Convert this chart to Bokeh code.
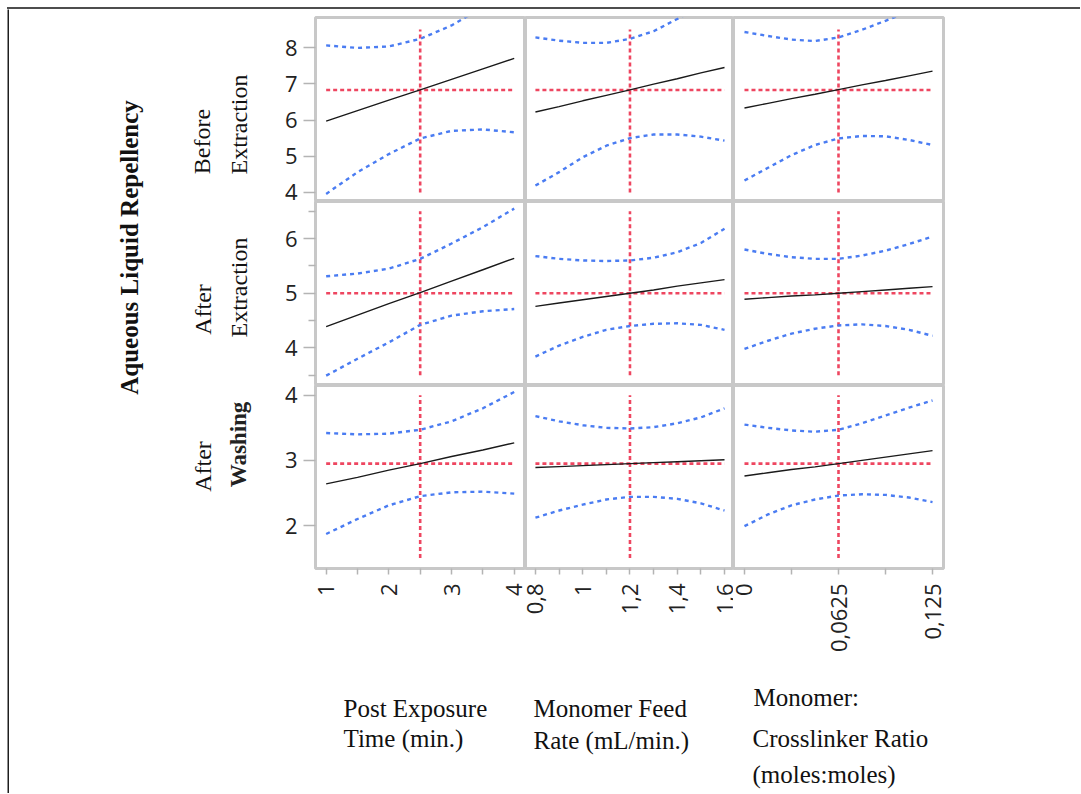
import math
from bokeh.plotting import figure
from bokeh.layouts import row, column
from bokeh.models import Range1d, FixedTicker, CustomJSTickFormatter, Div
from bokeh.embed import file_html
from bokeh.resources import INLINE
from bokeh.core.properties import value

# ---------------- data ----------------
factor_labels = [["Post Exposure", "Time (min.)"],
                 ["Monomer Feed", "Rate (mL/min.)"],
                 ["Monomer:", "Crosslinker Ratio", " (moles:moles)"]]
response_labels = [["Before", "Extraction"], ["After", "Extraction"], ["After", "Washing"]]
main_label = "Aqueous Liquid Repellency"

x_post = [1, 1.5, 2, 2.5, 3, 3.5, 4]
x_feed = [0.8, 0.9, 1.0, 1.1, 1.2, 1.3, 1.4, 1.5, 1.6]
x_ratio = [0, 0.015625, 0.03125, 0.046875, 0.0625, 0.078125, 0.09375, 0.109375, 0.125]

current_x = [2.5, 1.2, 0.0625]
current_y = [6.83, 5.0, 2.95]

# Before Extraction
be_post_pred = [5.97, 6.26, 6.55, 6.83, 7.12, 7.41, 7.70]
be_post_up = [8.06, 7.99, 8.03, 8.24, 8.61, 9.11, 9.78]
be_post_lo = [3.96, 4.56, 5.06, 5.49, 5.70, 5.74, 5.66]
be_feed_pred = [6.22, 6.37, 6.53, 6.68, 6.83, 6.99, 7.14, 7.30, 7.45]
be_feed_up = [8.28, 8.19, 8.13, 8.13, 8.24, 8.45, 8.79, 9.13, 9.53]
be_feed_lo = [4.19, 4.56, 4.97, 5.29, 5.50, 5.60, 5.60, 5.54, 5.43]
be_ratio_pred = [6.33, 6.46, 6.59, 6.71, 6.84, 6.97, 7.09, 7.22, 7.35]
be_ratio_up = [8.43, 8.32, 8.22, 8.18, 8.28, 8.49, 8.74, 8.99, 9.39]
be_ratio_lo = [4.33, 4.68, 5.03, 5.31, 5.49, 5.56, 5.55, 5.45, 5.31]

# After Extraction
ae_post_pred = [4.39, 4.60, 4.81, 5.01, 5.22, 5.43, 5.64]
ae_post_up = [5.31, 5.36, 5.45, 5.63, 5.91, 6.21, 6.55]
ae_post_lo = [3.49, 3.80, 4.10, 4.42, 4.59, 4.67, 4.71]
ae_feed_pred = [4.76, 4.82, 4.88, 4.94, 5.00, 5.06, 5.13, 5.19, 5.25]
ae_feed_up = [5.68, 5.63, 5.60, 5.59, 5.60, 5.65, 5.75, 5.92, 6.18]
ae_feed_lo = [3.84, 4.04, 4.20, 4.33, 4.40, 4.44, 4.45, 4.42, 4.33]
ae_ratio_pred = [4.89, 4.92, 4.95, 4.97, 5.00, 5.03, 5.06, 5.09, 5.12]
ae_ratio_up = [5.80, 5.72, 5.66, 5.63, 5.63, 5.69, 5.78, 5.90, 6.04]
ae_ratio_lo = [3.98, 4.13, 4.26, 4.35, 4.41, 4.43, 4.40, 4.33, 4.22]

# After Washing
aw_post_pred = [2.64, 2.74, 2.85, 2.95, 3.06, 3.16, 3.27]
aw_post_up = [3.42, 3.40, 3.41, 3.47, 3.60, 3.80, 4.05]
aw_post_lo = [1.87, 2.10, 2.31, 2.45, 2.51, 2.52, 2.49]
aw_feed_pred = [2.89, 2.905, 2.92, 2.935, 2.95, 2.965, 2.98, 2.995, 3.01]
aw_feed_up = [3.68, 3.60, 3.54, 3.50, 3.49, 3.51, 3.57, 3.66, 3.80]
aw_feed_lo = [2.12, 2.23, 2.32, 2.40, 2.44, 2.44, 2.41, 2.34, 2.23]
aw_ratio_pred = [2.76, 2.81, 2.86, 2.90, 2.95, 3.00, 3.05, 3.10, 3.15]
aw_ratio_up = [3.55, 3.50, 3.46, 3.44, 3.47, 3.57, 3.69, 3.81, 3.92]
aw_ratio_lo = [1.99, 2.17, 2.31, 2.40, 2.46, 2.48, 2.47, 2.43, 2.36]

# tick definitions
y_ticks = [[4, 5, 6, 7, 8], [4, 5, 6], [2, 3, 4]]
y_minor = [[], [3.5, 4.5, 5.5, 6.5], []]
x_ticks = [[1, 2, 3, 4], [0.8, 1.0, 1.2, 1.4, 1.6], [0, 0.0625, 0.125]]
x_minor = [[1.5, 2.5, 3.5], [0.9, 1.1, 1.3, 1.5], [0.03125, 0.09375]]
cursor_span = [[4.0, 8.5], [3.5, 6.5], [1.5, 4.0]]

# ---------------- styling / layout ----------------
y_ranges = [(3.75, 8.83), (3.31, 6.68), (1.34, 4.15)]
x_ranges = [(0.83, 4.18), (0.758, 1.638), (-0.0073, 0.1323)]
frame_w = [210, 208, 210]
frame_h = [184, 184, 183]

GRID = "#c8c8c8"
RED = "#ee4660"
BLUE = "#4a7cf2"
TICK = "#b4b4b4"
SERIF = "Liberation Serif"
SANS = "Open Sans"

xs_all = [x_post, x_feed, x_ratio]
data = [
    [(be_post_pred, be_post_up, be_post_lo), (be_feed_pred, be_feed_up, be_feed_lo), (be_ratio_pred, be_ratio_up, be_ratio_lo)],
    [(ae_post_pred, ae_post_up, ae_post_lo), (ae_feed_pred, ae_feed_up, ae_feed_lo), (ae_ratio_pred, ae_ratio_up, ae_ratio_lo)],
    [(aw_post_pred, aw_post_up, aw_post_lo), (aw_feed_pred, aw_feed_up, aw_feed_lo), (aw_ratio_pred, aw_ratio_up, aw_ratio_lo)],
]


def block(w, h, color):
    f = figure(width=w, height=h, output_backend="svg", toolbar_location=None, title=None,
               x_axis_location=None, y_axis_location=None, min_border=0,
               background_fill_color=color, border_fill_color=color, outline_line_color=None)
    f.grid.visible = False
    return f


def panel(r, c):
    left = 55 if c == 0 else 0
    right = 4 if c == 2 else 0
    top = 8 if r == 0 else 0
    bottom = 100 if r == 2 else 0
    p = figure(frame_width=frame_w[c], frame_height=frame_h[r],
               x_range=Range1d(*x_ranges[c]), y_range=Range1d(*y_ranges[r]),
               output_backend="svg", toolbar_location=None, title=None,
               min_border_left=left, min_border_right=right,
               min_border_top=top, min_border_bottom=bottom,
               x_axis_location="below" if r == 2 else None,
               y_axis_location="left" if c == 0 else None,
               outline_line_color=GRID, outline_line_width=3,
               background_fill_color="white", border_fill_color="white")
    p.grid.visible = False
    xs = xs_all[c]
    pred, up, lo = data[r][c]
    cx, cy = current_x[c], current_y[r]
    # current-value cursors
    p.line([xs[0], xs[-1]], [cy, cy], line_color=RED, line_width=2.6, line_dash="4 3")
    p.line([cx, cx], cursor_span[r], line_color=RED, line_width=2.6, line_dash="4 3")
    # confidence bands
    p.line(xs, up, line_color=BLUE, line_width=2.4, line_dash="4 4")
    p.line(xs, lo, line_color=BLUE, line_width=2.4, line_dash="4 4")
    # prediction
    p.line(xs, pred, line_color="#1a1a1a", line_width=1.4)
    if c == 0:
        ax = p.yaxis[0]
        ax.ticker = FixedTicker(ticks=y_ticks[r], minor_ticks=y_minor[r])
        ax.axis_line_color = None
        ax.major_tick_in = 0
        ax.major_tick_out = 12
        ax.minor_tick_in = 0
        ax.minor_tick_out = 7
        ax.major_tick_line_color = TICK
        ax.minor_tick_line_color = TICK
        ax.major_tick_line_width = 1.5
        ax.minor_tick_line_width = 1.5
        ax.major_label_text_font = SANS
        ax.major_label_text_font_size = "22px"
        ax.major_label_text_color = "#222222"
        ax.major_label_standoff = 6
    if r == 2:
        ax = p.xaxis[0]
        ax.ticker = FixedTicker(ticks=x_ticks[c], minor_ticks=x_minor[c])
        ax.formatter = CustomJSTickFormatter(code="return tick.toString().replace('.', ',');")
        ax.axis_line_color = None
        ax.major_tick_in = 0
        ax.major_tick_out = 6
        ax.minor_tick_in = 0
        ax.minor_tick_out = 6
        ax.major_tick_line_color = TICK
        ax.minor_tick_line_color = TICK
        ax.major_tick_line_width = 1.5
        ax.minor_tick_line_width = 1.5
        ax.major_label_orientation = math.pi / 2
        ax.major_label_text_font = SANS
        ax.major_label_text_font_size = "22px"
        ax.major_label_text_color = "#222222"
        ax.major_label_standoff = 9
    return p


rows = []
for r in range(3):
    rows.append(row([panel(r, c) for c in range(3)], spacing=0))
grid = column(rows, spacing=0)

# left label area (page pixel coordinates)
lab = figure(frame_width=251, frame_height=659, x_range=Range1d(9, 260), y_range=Range1d(668, 9),
             output_backend="svg", toolbar_location=None, title=None,
             x_axis_location=None, y_axis_location=None, min_border=0,
             outline_line_color=None, background_fill_color="white", border_fill_color="white")
lab.grid.visible = False
lab.text(x=[129], y=[247], text=[main_label], angle=math.pi / 2,
         text_font=value(SERIF), text_font_style="bold", text_font_size="25px",
         text_align="center", text_baseline="middle", text_color="#111111")
lab.text(x=[201, 238, 202, 238, 202], y=[141, 124, 309, 287, 466],
         text=[response_labels[0][0], response_labels[0][1], response_labels[1][0],
               response_labels[1][1], response_labels[2][0]],
         angle=math.pi / 2, text_font=value(SERIF), text_font_size="24px",
         text_align="center", text_baseline="middle", text_color="#111111")
lab.text(x=[238], y=[444], text=[response_labels[2][1]], angle=math.pi / 2,
         text_font=value(SERIF), text_font_style="bold", text_font_size="23px",
         text_align="center", text_baseline="middle", text_color="#222222")

# bottom captions (page pixel coordinates)
cap = figure(frame_width=1071, frame_height=125, x_range=Range1d(9, 1080), y_range=Range1d(793, 668),
             output_backend="svg", toolbar_location=None, title=None,
             x_axis_location=None, y_axis_location=None, min_border=0,
             outline_line_color=None, background_fill_color="white", border_fill_color="white")
cap.grid.visible = False
cap.text(x=[343, 343, 533, 533, 753, 752, 752],
         y=[708, 738, 708, 740, 697, 738, 774],
         text=[factor_labels[0][0], factor_labels[0][1], factor_labels[1][0], factor_labels[1][1],
               factor_labels[2][0], factor_labels[2][1], factor_labels[2][2]],
         text_font=value(SERIF), text_font_size="25px",
         text_align="left", text_baseline="middle", text_color="#111111")

# page frame lines (top and left)
top_bar = Div(text="", width=1073, height=2, margin=(7, 0, 0, 7),
              styles={"background-color": "#4d4d4d"})
left_bar = row([block(7, 784, "white"), block(2, 784, "#1e1e1e")], spacing=0)

main = column([row([lab, grid], spacing=0), cap], spacing=0)
layout = column([top_bar, row([left_bar, main], spacing=0)], spacing=0)

open("out.html", "w").write(file_html(layout, INLINE))
